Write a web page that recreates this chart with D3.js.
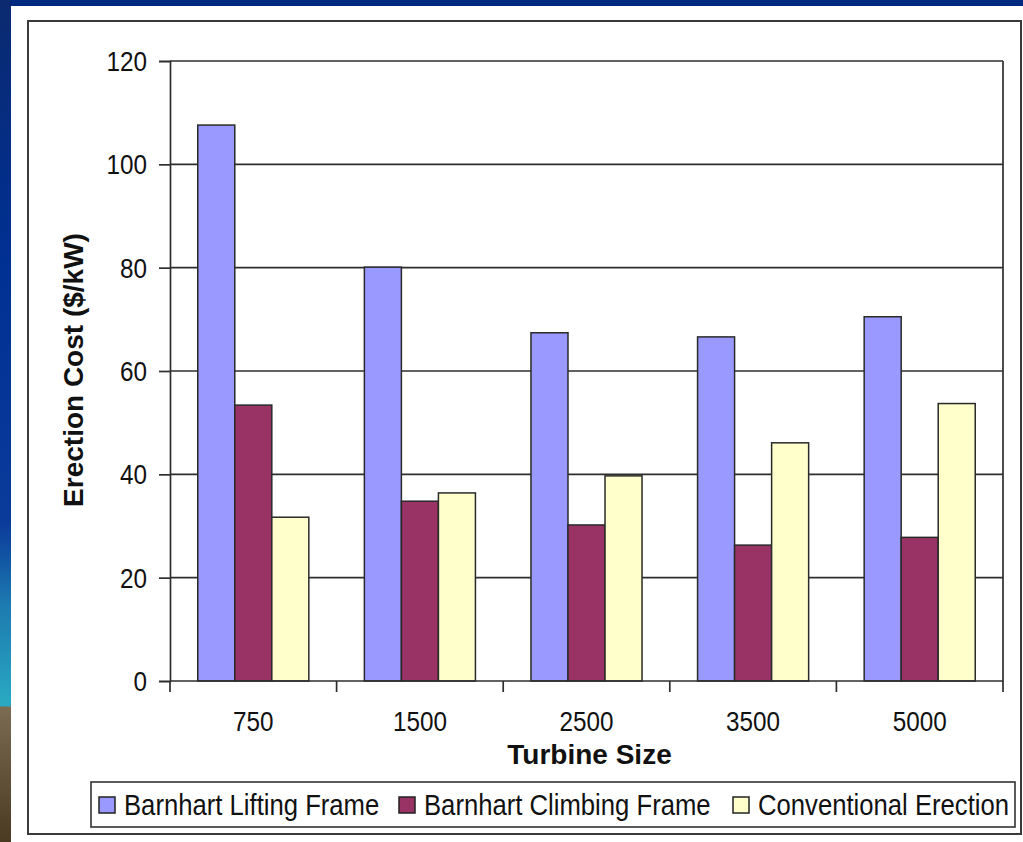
<!DOCTYPE html>
<html>
<head>
<meta charset="utf-8">
<script src="https://cdn.jsdelivr.net/npm/d3@7"></script>
<style>
  html, body { margin: 0; padding: 0; background: #ffffff; }
  svg { display: block; }
  text { font-family: "Liberation Sans", Arial, sans-serif; fill: #111; }
</style>
</head>
<body>
<svg id="chart" width="1023" height="842"></svg>
<script>
// Turbine sizes (kW) along the category axis
const categories = ["750", "1500", "2500", "3500", "5000"];
// Erection method series
const seriesNames = ["Barnhart Lifting Frame", "Barnhart Climbing Frame", "Conventional Erection"];
const seriesColors = ["#9999FF", "#993366", "#FFFFCC"];
// Erection cost in $/kW, one array per series, in category order
const liftingFrame = [107.6, 80.1, 67.4, 66.6, 70.5];
const climbingFrame = [53.4, 34.8, 30.2, 26.3, 27.8];
const conventional = [31.7, 36.4, 39.7, 46.1, 53.7];
const yTicks = [0, 20, 40, 60, 80, 100, 120];

const seriesValues = [liftingFrame, climbingFrame, conventional];

const svg = d3.select("#chart");
const W = 1023, H = 842;

// Slide background: top band and left strip
const defs = svg.append("defs");
const strip = defs.append("linearGradient").attr("id", "stripGrad")
  .attr("x1", 0).attr("y1", 0).attr("x2", 0).attr("y2", 1);
[[0, "#0b2a70"], [0.3, "#003092"], [0.62, "#0a3a9a"], [0.72, "#1d7bb0"], [0.838, "#2aa9c2"],
 [0.84, "#7b6b52"], [1, "#4a3a22"]].forEach(([o, c]) =>
  strip.append("stop").attr("offset", o).attr("stop-color", c));

svg.append("rect").attr("x", 0).attr("y", 0).attr("width", W).attr("height", 6).attr("fill", "#002a80");
svg.append("rect").attr("x", 0).attr("y", 0).attr("width", 11).attr("height", H).attr("fill", "url(#stripGrad)");

// Chart area border
svg.append("rect").attr("x", 28).attr("y", 21).attr("width", 993).attr("height", 813)
  .attr("fill", "#fff").attr("stroke", "#3a3a3a").attr("stroke-width", 2);

const plot = { left: 170, top: 61, right: 1003, bottom: 681 };

const x = d3.scaleBand().domain(categories).range([plot.left, plot.right]).paddingInner(0).paddingOuter(0);
const xs = d3.scaleBand().domain(seriesNames).range([0, x.bandwidth()]).paddingInner(0).paddingOuter(0.75);
const y = d3.scaleLinear().domain([0, 120]).range([plot.bottom, plot.top]);

const lineColor = "#2e2e2e";

// Horizontal gridlines
svg.append("g").selectAll("line").data(yTicks.filter(d => d > 0)).join("line")
  .attr("x1", plot.left).attr("x2", plot.right)
  .attr("y1", d => y(d)).attr("y2", d => y(d))
  .attr("stroke", lineColor).attr("stroke-width", 1.7);

// Plot area right edge
svg.append("line").attr("x1", plot.right).attr("x2", plot.right)
  .attr("y1", plot.top).attr("y2", plot.bottom)
  .attr("stroke", lineColor).attr("stroke-width", 1.7);

// Bars
const groups = svg.append("g").selectAll("g").data(categories).join("g")
  .attr("transform", c => `translate(${x(c)},0)`);
groups.selectAll("rect")
  .data((c, i) => seriesNames.map((s, k) => ({ s, k, v: seriesValues[k][i] })))
  .join("rect")
  .attr("x", d => xs(d.s))
  .attr("width", xs.bandwidth())
  .attr("y", d => y(d.v))
  .attr("height", d => y(0) - y(d.v))
  .attr("fill", d => seriesColors[d.k])
  .attr("stroke", "#2a2a2a").attr("stroke-width", 1.5);

// Y axis
const yAxis = svg.append("g").attr("transform", `translate(${plot.left},0)`)
  .call(d3.axisLeft(y).tickValues(yTicks).tickSize(11).tickFormat(""));
yAxis.selectAll("path, line").attr("stroke", lineColor).attr("stroke-width", 1.7);

// X axis: baseline plus tick marks on category boundaries
const xBounds = categories.map(c => x(c)).concat([x(categories[categories.length - 1]) + x.bandwidth()]);
svg.append("line").attr("x1", plot.left).attr("x2", plot.right)
  .attr("y1", plot.bottom).attr("y2", plot.bottom)
  .attr("stroke", lineColor).attr("stroke-width", 1.7);
svg.append("g").selectAll("line").data(xBounds).join("line")
  .attr("x1", d => d).attr("x2", d => d)
  .attr("y1", plot.bottom).attr("y2", plot.bottom + 11)
  .attr("stroke", lineColor).attr("stroke-width", 1.7);

// Condensed regular text helper
function label(g, txt, px, py, anchor, size, sx) {
  return g.append("text")
    .attr("transform", `translate(${px},${py}) scale(${sx},1)`)
    .attr("text-anchor", anchor)
    .attr("font-size", size)
    .text(txt);
}

const labels = svg.append("g");
yTicks.forEach(t => label(labels, String(t), 147, y(t) + 10, "end", 27, 0.9));
categories.forEach(c => label(labels, c, x(c) + x.bandwidth() / 2, 731, "middle", 27, 0.9));

// Axis titles
svg.append("text")
  .attr("transform", `translate(${(plot.left + plot.right) / 2 + 3},764)`)
  .attr("text-anchor", "middle").attr("font-size", 28).attr("font-weight", "bold")
  .text("Turbine Size");
svg.append("text")
  .attr("transform", `translate(83,${(plot.top + plot.bottom) / 2 - 1}) rotate(-90)`)
  .attr("text-anchor", "middle").attr("font-size", 28).attr("font-weight", "bold")
  .text("Erection Cost ($/kW)");

// Legend
const legend = svg.append("g");
legend.append("rect").attr("x", 91).attr("y", 782).attr("width", 924).attr("height", 45)
  .attr("fill", "#fff").attr("stroke", "#333").attr("stroke-width", 1.6);
const legendX = [99, 399, 733];
seriesNames.forEach((s, k) => {
  legend.append("rect").attr("x", legendX[k]).attr("y", 797).attr("width", 16).attr("height", 16)
    .attr("fill", seriesColors[k]).attr("stroke", "#222").attr("stroke-width", 1.5);
  label(legend, s, legendX[k] + 25, 815, "start", 29, 0.885);
});
</script>
</body>
</html>
